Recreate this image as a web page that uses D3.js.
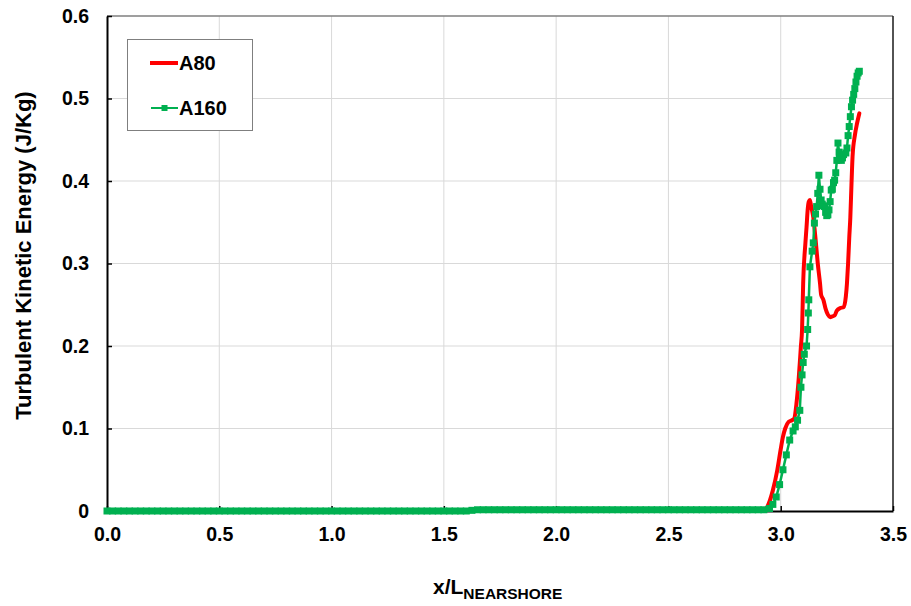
<!DOCTYPE html>
<html>
<head>
<meta charset="utf-8">
<script src="https://cdn.jsdelivr.net/npm/d3@7"></script>
<style>
  html, body { margin: 0; padding: 0; background: #fff; }
  svg { display: block; font-family: "Liberation Sans", Arial, sans-serif; font-weight: bold; }
</style>
</head>
<body>
<svg id="chart" width="911" height="606"></svg>
<script>
// Axis ticks
const xTicks = [0.0, 0.5, 1.0, 1.5, 2.0, 2.5, 3.0, 3.5];
const yTicks = [0, 0.1, 0.2, 0.3, 0.4, 0.5, 0.6];
const yTickLabels = ["0", "0.1", "0.2", "0.3", "0.4", "0.5", "0.6"];

// Series A80 (solid line)
const a80X = [0.0, 2.90, 2.92, 2.94, 2.965, 2.985, 3.0, 3.01, 3.02, 3.035, 3.05, 3.06, 3.07, 3.08, 3.09, 3.095,
  3.10, 3.11, 3.115, 3.12, 3.125, 3.13, 3.135, 3.145, 3.155, 3.165, 3.175, 3.18, 3.19, 3.2, 3.21, 3.22,
  3.23, 3.24, 3.25, 3.265, 3.28, 3.29, 3.295, 3.3, 3.305, 3.31, 3.315, 3.32, 3.33, 3.34, 3.35];
const a80Y = [0, 0, 0, 0.005, 0.025, 0.05, 0.075, 0.09, 0.1, 0.108, 0.11, 0.112, 0.13, 0.16, 0.2, 0.22,
  0.276, 0.325, 0.344, 0.365, 0.375, 0.377, 0.37, 0.356, 0.33, 0.3, 0.276, 0.262, 0.256, 0.245, 0.238, 0.235,
  0.236, 0.237, 0.243, 0.246, 0.247, 0.26, 0.276, 0.3, 0.33, 0.356, 0.395, 0.43, 0.455, 0.47, 0.482];

// Series A160 (line with square markers)
const a160X = [
  0.000, 0.025, 0.050, 0.075, 0.100, 0.125, 0.150, 0.175, 0.200, 0.225, 0.250, 0.275, 0.300, 0.325, 0.350, 0.375,
  0.400, 0.425, 0.450, 0.475, 0.500, 0.525, 0.550, 0.575, 0.600, 0.625, 0.650, 0.675, 0.700, 0.725, 0.750, 0.775,
  0.800, 0.825, 0.850, 0.875, 0.900, 0.925, 0.950, 0.975, 1.000, 1.025, 1.050, 1.075, 1.100, 1.125, 1.150, 1.175,
  1.200, 1.225, 1.250, 1.275, 1.300, 1.325, 1.350, 1.375, 1.400, 1.425, 1.450, 1.475, 1.500, 1.525, 1.550, 1.575,
  1.600, 1.625, 1.650, 1.675, 1.700, 1.725, 1.750, 1.775, 1.800, 1.825, 1.850, 1.875, 1.900, 1.925, 1.950, 1.975,
  2.000, 2.025, 2.050, 2.075, 2.100, 2.125, 2.150, 2.175, 2.200, 2.225, 2.250, 2.275, 2.300, 2.325, 2.350, 2.375,
  2.400, 2.425, 2.450, 2.475, 2.500, 2.525, 2.550, 2.575, 2.600, 2.625, 2.650, 2.675, 2.700, 2.725, 2.750, 2.775,
  2.800, 2.825, 2.850, 2.875, 2.900, 2.925, 2.950, 2.965, 2.980, 2.995, 3.010, 3.025, 3.040, 3.055, 3.065, 3.075,
  3.085, 3.090, 3.095, 3.100, 3.105, 3.115, 3.120, 3.123, 3.125, 3.130, 3.140, 3.145, 3.150, 3.155, 3.160, 3.165,
  3.170, 3.175, 3.180, 3.185, 3.190, 3.195, 3.200, 3.205, 3.210, 3.215, 3.220, 3.225, 3.230, 3.235, 3.240, 3.245,
  3.250, 3.255, 3.260, 3.265, 3.270, 3.275, 3.280, 3.290, 3.295, 3.300, 3.305, 3.310, 3.315, 3.320, 3.325, 3.330,
  3.335, 3.340, 3.345, 3.350];
const a160Y = [
  0, 0, 0, 0, 0, 0, 0, 0, 0, 0, 0, 0, 0, 0, 0, 0,
  0, 0, 0, 0, 0, 0, 0, 0, 0, 0, 0, 0, 0, 0, 0, 0,
  0, 0, 0, 0, 0, 0, 0, 0, 0, 0, 0, 0, 0, 0, 0, 0,
  0, 0, 0, 0, 0, 0, 0, 0, 0, 0, 0, 0, 0, 0, 0, 0,
  0, 0.0008, 0.0015, 0.0015, 0.0015, 0.0015, 0.0015, 0.0015, 0.0015, 0.0015, 0.0015, 0.0015, 0.0015, 0.0015, 0.0015, 0.0015,
  0.0015, 0.0015, 0.0015, 0.0015, 0.0015, 0.0015, 0.0015, 0.0015, 0.0015, 0.0015, 0.0015, 0.0015, 0.0015, 0.0015, 0.0015, 0.0015,
  0.0015, 0.0015, 0.0015, 0.0015, 0.0015, 0.0015, 0.0015, 0.0015, 0.0015, 0.0015, 0.0015, 0.0015, 0.0015, 0.0015, 0.0015, 0.0015,
  0.0015, 0.0015, 0.0015, 0.0015, 0.0015, 0.0015, 0.003, 0.008, 0.017, 0.032, 0.05, 0.068, 0.086, 0.097, 0.102, 0.11,
  0.122, 0.15, 0.165, 0.18, 0.19, 0.2, 0.22, 0.24, 0.256, 0.296, 0.315, 0.325, 0.349, 0.36, 0.369, 0.385,
  0.407, 0.39, 0.377, 0.372, 0.37, 0.369, 0.362, 0.358, 0.359, 0.365, 0.375, 0.389, 0.39, 0.398, 0.401, 0.41,
  0.425, 0.446, 0.435, 0.43, 0.425, 0.428, 0.432, 0.434, 0.44, 0.455, 0.466, 0.478, 0.49, 0.498, 0.505, 0.512,
  0.52, 0.527, 0.531, 0.533];

const seriesNames = ["A80", "A160"];
const seriesColors = ["#ff0000", "#00b050"];

const svg = d3.select("#chart");
const plot = { left: 107, right: 893, top: 16, bottom: 511 };

const x = d3.scaleLinear().domain([0, 3.5]).range([plot.left, plot.right]);
const y = d3.scaleLinear().domain([0, 0.6]).range([plot.bottom, plot.top]);

// Gridlines
const grid = svg.append("g");
grid.selectAll("line.v").data(xTicks.slice(1, -1)).join("line")
  .attr("x1", d => x(d)).attr("x2", d => x(d))
  .attr("y1", plot.top).attr("y2", plot.bottom)
  .attr("stroke", "#d9d9d9").attr("stroke-width", 1);
grid.selectAll("line.h").data(yTicks.slice(1, -1)).join("line")
  .attr("x1", plot.left).attr("x2", plot.right)
  .attr("y1", d => y(d)).attr("y2", d => y(d))
  .attr("stroke", "#d9d9d9").attr("stroke-width", 1);

// Top and right border
svg.append("line").attr("x1", plot.left).attr("x2", plot.right).attr("y1", plot.top).attr("y2", plot.top)
  .attr("stroke", "#7f7f7f").attr("stroke-width", 1.5);
svg.append("line").attr("x1", plot.right).attr("x2", plot.right).attr("y1", plot.top).attr("y2", plot.bottom)
  .attr("stroke", "#1a1a1a").attr("stroke-width", 1.5);

// Axes (ticks pointing inwards)
const xAxis = d3.axisBottom(x).tickValues(xTicks).tickFormat(d3.format(".1f"))
  .tickSizeInner(-5).tickSizeOuter(0).tickPadding(16);
const gx = svg.append("g").attr("transform", `translate(0,${plot.bottom})`).call(xAxis);
gx.select(".domain").attr("stroke", "#000").attr("stroke-width", 2);
gx.selectAll(".tick line").attr("stroke", "#000").attr("stroke-width", 1.5);
gx.selectAll(".tick text").attr("font-size", 19.5).attr("font-family", "'Liberation Sans', Arial, sans-serif")
  .attr("font-weight", "bold").attr("fill", "#000");

const yAxis = d3.axisLeft(y).tickValues(yTicks).tickFormat((d, i) => yTickLabels[i])
  .tickSizeInner(-5).tickSizeOuter(0).tickPadding(18);
const gy = svg.append("g").attr("transform", `translate(${plot.left},0)`).call(yAxis);
gy.select(".domain").attr("stroke", "#000").attr("stroke-width", 2);
gy.selectAll(".tick line").attr("stroke", "#000").attr("stroke-width", 1.5);
gy.selectAll(".tick text").attr("font-size", 19.5).attr("font-family", "'Liberation Sans', Arial, sans-serif")
  .attr("font-weight", "bold").attr("fill", "#000");

// Series
const a80 = a80X.map((v, i) => [v, a80Y[i]]);
const a160 = a160X.map((v, i) => [v, a160Y[i]]);
const line = d3.line().x(d => x(d[0])).y(d => y(d[1])).curve(d3.curveMonotoneX);

svg.append("path").datum(a80).attr("d", line)
  .attr("fill", "none").attr("stroke", seriesColors[0]).attr("stroke-width", 4)
  .attr("stroke-linejoin", "round").attr("stroke-linecap", "round");

const lineLin = d3.line().x(d => x(d[0])).y(d => y(d[1]));
svg.append("path").datum(a160).attr("d", lineLin)
  .attr("fill", "none").attr("stroke", seriesColors[1]).attr("stroke-width", 2.5);
const mk = 7;
svg.append("g").selectAll("rect").data(a160).join("rect")
  .attr("x", d => x(d[0]) - mk / 2).attr("y", d => y(d[1]) - mk / 2)
  .attr("width", mk).attr("height", mk).attr("fill", seriesColors[1]);

// Legend
const lg = svg.append("g");
lg.append("rect").attr("x", 127.5).attr("y", 39.5).attr("width", 125).attr("height", 91)
  .attr("fill", "#fff").attr("stroke", "#7f7f7f").attr("stroke-width", 1);
lg.append("line").attr("x1", 150).attr("x2", 178).attr("y1", 63).attr("y2", 63)
  .attr("stroke", seriesColors[0]).attr("stroke-width", 4);
lg.append("line").attr("x1", 151).attr("x2", 178).attr("y1", 108).attr("y2", 108)
  .attr("stroke", seriesColors[1]).attr("stroke-width", 2);
lg.append("rect").attr("x", 164.5 - 3).attr("y", 108 - 3).attr("width", 6).attr("height", 6)
  .attr("fill", seriesColors[1]);
lg.append("text").attr("x", 179).attr("y", 70).attr("font-size", 20).text(seriesNames[0]);
lg.append("text").attr("x", 179).attr("y", 115).attr("font-size", 20).text(seriesNames[1]);

// Axis titles
const xt = svg.append("text").attr("x", 433).attr("y", 594).attr("font-size", 21);
xt.append("tspan").text("x/L");
xt.append("tspan").attr("dy", 5).attr("font-size", 15.5).text("NEARSHORE");

svg.append("text")
  .attr("transform", `translate(31,${(plot.top + plot.bottom) / 2 - 8}) rotate(-90)`)
  .attr("text-anchor", "middle").attr("font-size", 22)
  .text("Turbulent Kinetic Energy (J/Kg)");
</script>
</body>
</html>
